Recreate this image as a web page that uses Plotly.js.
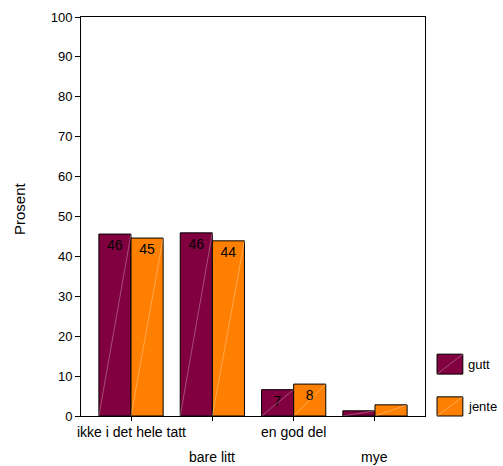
<!DOCTYPE html>
<html>
<head>
<meta charset="utf-8">
<script src="https://cdn.plot.ly/plotly-3.0.1.min.js"></script>
<style>html,body{margin:0;padding:0;background:#fff;}#chart{width:503px;height:466px;}</style>
</head>
<body>
<div id="chart"></div>
<script>
const categories = ["ikke i det hele tatt", "bare litt", "en god del", "mye"];
const gutt = [45.6, 45.9, 6.6, 1.3];
const jente = [44.6, 43.9, 8.0, 2.8];
const guttLabels = ["46", "46", "7", ""];
const jenteLabels = ["45", "44", "8", ""];
const seriesNames = ["gutt", "jente"];
const colors = ["#800040", "#FF8000"];
const yTicks = [0, 10, 20, 30, 40, 50, 60, 70, 80, 90, 100];
const yTitle = "Prosent";

const FONT = "Arial, 'Liberation Sans', sans-serif";
const xIdx = categories.map((c, i) => i);
const bargap = 0.21;
const bw = (1 - bargap) / 2;

function barTrace(vals, labels, name, color) {
  return {
    type: "bar", x: xIdx, y: vals, name: name,
    text: labels, textposition: "inside", insidetextanchor: "end",
    textfont: {family: FONT, size: 14, color: "#000"},
    constraintext: "none",
    marker: {color: color, line: {color: "#000", width: 1}},
    hoverinfo: "skip", showlegend: false
  };
}

const data = [
  barTrace(gutt, guttLabels, seriesNames[0], colors[0]),
  barTrace(jente, jenteLabels, seriesNames[1], colors[1])
];

// faint diagonal highlight across each bar (from its data)
const shapes = [];
[gutt, jente].forEach((vals, s) => {
  vals.forEach((v, i) => {
    const x0 = i - bw + s * bw;
    shapes.push({type: "line", xref: "x", yref: "y", x0: x0, y0: 0, x1: x0 + bw, y1: v,
      line: {color: "rgba(255,255,255,0.3)", width: 1}, layer: "above"});
  });
});

// legend boxes
const legY = [[0.105, 0.155], [0.0, 0.048]];
const annotations = [];
seriesNames.forEach((n, s) => {
  shapes.push({type: "rect", xref: "paper", yref: "paper", x0: 1.035, x1: 1.11,
    y0: legY[s][0], y1: legY[s][1], fillcolor: colors[s], line: {color: "#000", width: 1}});
  shapes.push({type: "line", xref: "paper", yref: "paper", x0: 1.035, x1: 1.11,
    y0: legY[s][0], y1: legY[s][1], line: {color: "rgba(255,255,255,0.3)", width: 1}});
  annotations.push({xref: "paper", yref: "paper", x: 1.118, y: (legY[s][0] + legY[s][1]) / 2,
    xanchor: "left", yanchor: "middle", showarrow: false, text: n,
    font: {family: FONT, size: 13, color: "#000"}});
});

// staggered category labels
categories.forEach((c, i) => {
  annotations.push({xref: "x", yref: "paper", x: i, y: 0, yanchor: "middle", xanchor: "center",
    yshift: (i % 2 === 0) ? -16 : -41, showarrow: false, text: c,
    font: {family: FONT, size: 14, color: "#000"}});
});

// y-axis title
annotations.push({xref: "paper", yref: "paper", x: -0.177, y: 0.519, xanchor: "center", yanchor: "middle",
  textangle: -90, showarrow: false, text: yTitle, font: {family: FONT, size: 15, color: "#000"}});

const layout = {
  width: 503, height: 466,
  margin: {l: 81, r: 78, t: 17, b: 50},
  paper_bgcolor: "#fff", plot_bgcolor: "#fff",
  font: {family: FONT, size: 13, color: "#000"},
  barmode: "group", bargap: bargap, bargroupgap: 0,
  xaxis: {
    range: [-0.615, 3.615], tickvals: xIdx, ticktext: categories.map(() => ""),
    showline: true, linecolor: "#000", linewidth: 1, mirror: true,
    ticks: "outside", ticklen: 4, tickcolor: "#000", showgrid: false, zeroline: false, fixedrange: true
  },
  yaxis: {
    range: [0, 100], tickvals: yTicks, ticktext: yTicks.map(String),
    showline: true, linecolor: "#000", linewidth: 1, mirror: true,
    ticks: "outside", ticklen: 5, tickcolor: "#000", showgrid: false, zeroline: false,
    tickfont: {family: FONT, size: 13, color: "#000"},
    fixedrange: true
  },
  shapes: shapes,
  annotations: annotations,
  showlegend: false
};

Plotly.newPlot("chart", data, layout, {displayModeBar: false, staticPlot: true});
</script>
</body>
</html>
